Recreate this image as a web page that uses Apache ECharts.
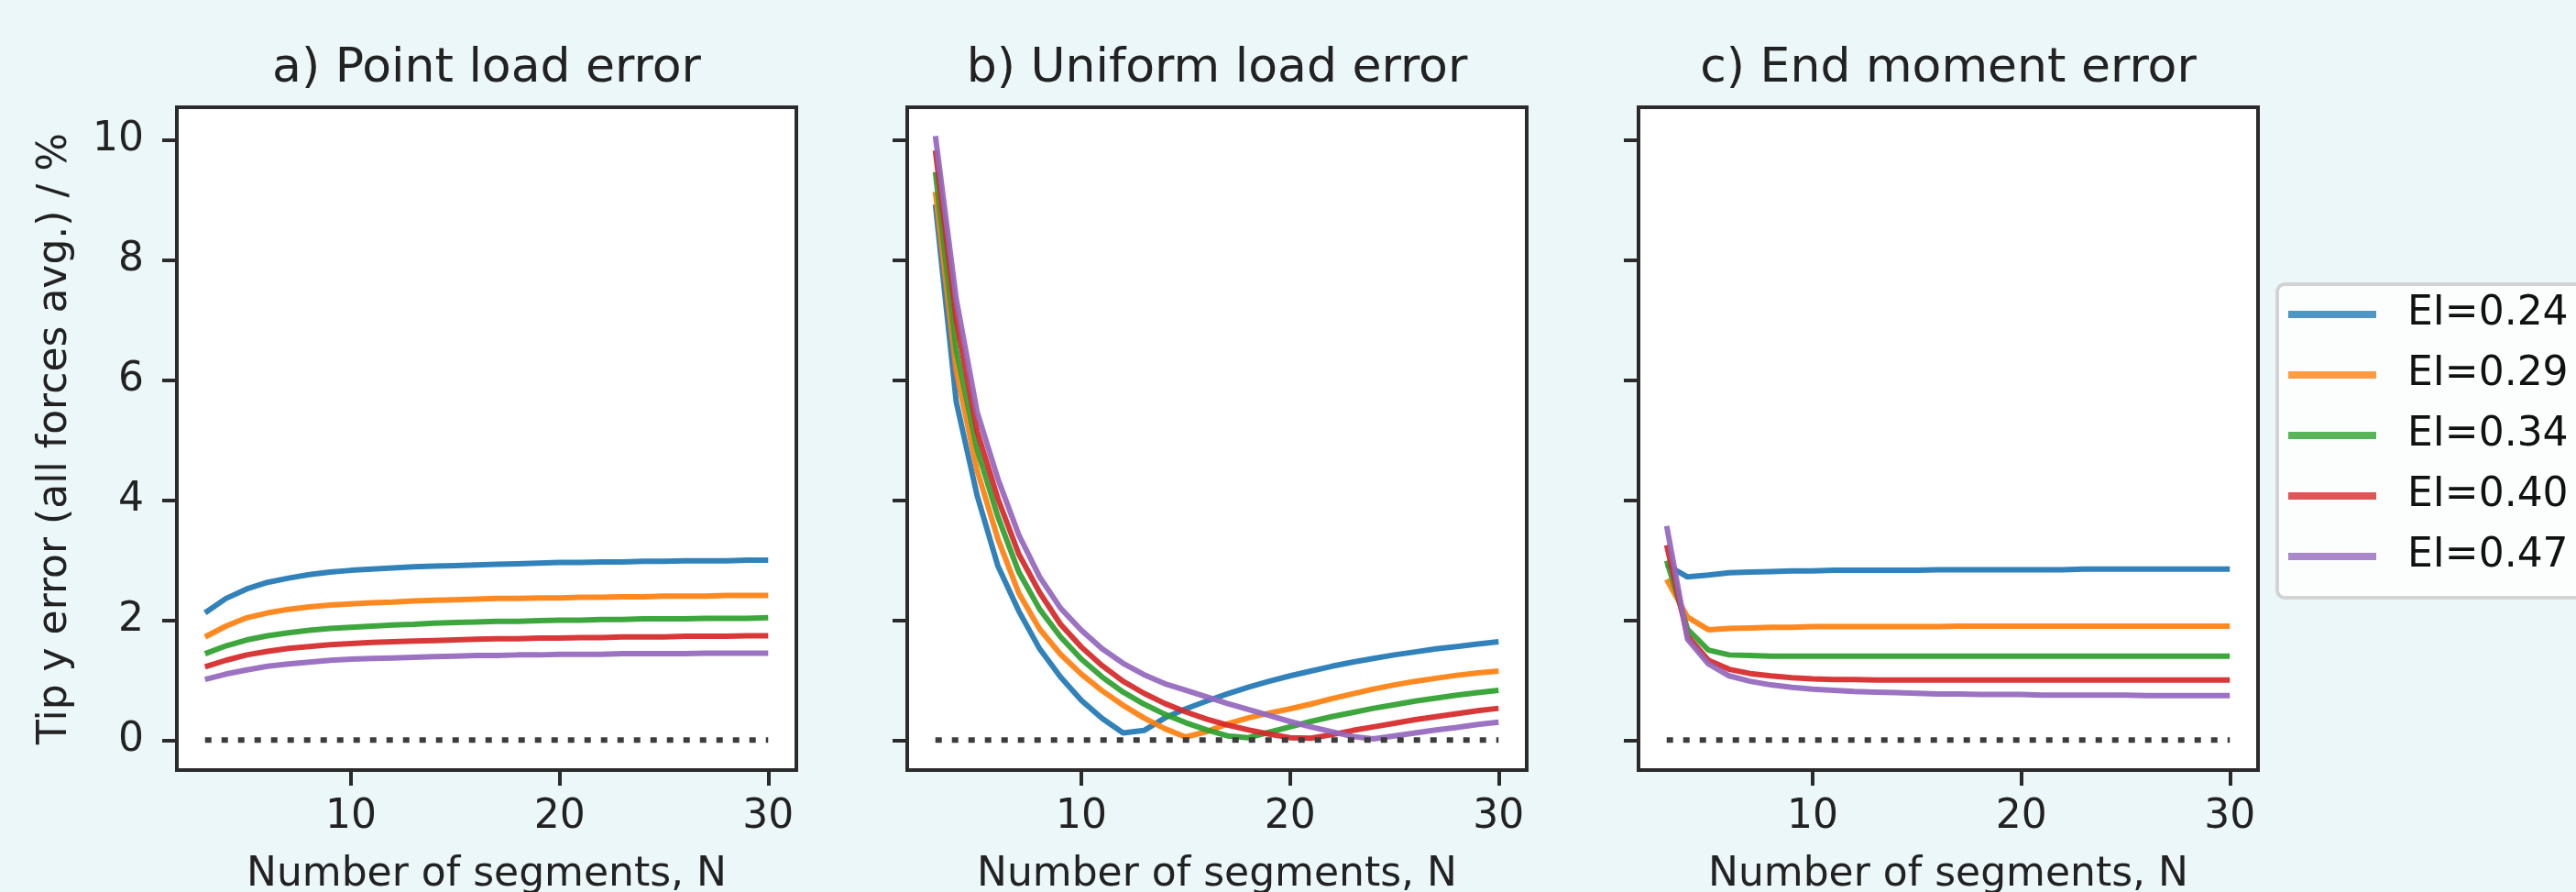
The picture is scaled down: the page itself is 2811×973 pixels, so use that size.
<!DOCTYPE html>
<html>
<head>
<meta charset="utf-8">
<title>Tip y error</title>
<script src="https://cdn.jsdelivr.net/npm/echarts@6/dist/echarts.min.js"></script>
<style>
  html, body { margin: 0; padding: 0; background: #ecf7f9; }
  #chart { width: 2811px; height: 973px; }
</style>
</head>
<body>
<div id="chart"></div>
<script>
// number of segments
var segN = [3,4,5,6,7,8,9,10,11,12,13,14,15,16,17,18,19,20,21,22,23,24,25,26,27,28,29,30];
var xTicks = [10, 20, 30];
var yTicks = [0, 2, 4, 6, 8, 10];
var eiNames = ['EI=0.24', 'EI=0.29', 'EI=0.34', 'EI=0.40', 'EI=0.47'];
var panelTitles = ['a) Point load error', 'b) Uniform load error', 'c) End moment error'];

// reference line at zero
var zeroN = [3, 30];
var zeroY = [0, 0];

// a) point load
var pointEI024 = [2.12,2.36,2.52,2.63,2.70,2.76,2.80,2.83,2.85,2.87,2.89,2.90,2.91,2.92,2.93,2.94,2.95,2.96,2.96,2.97,2.97,2.98,2.98,2.99,2.99,2.99,3.00,3.00];
var pointEI029 = [1.72,1.90,2.04,2.12,2.18,2.22,2.25,2.27,2.29,2.30,2.32,2.33,2.34,2.35,2.36,2.36,2.37,2.37,2.38,2.38,2.39,2.39,2.40,2.40,2.40,2.41,2.41,2.41];
var pointEI034 = [1.44,1.57,1.67,1.74,1.79,1.83,1.86,1.88,1.90,1.92,1.93,1.95,1.96,1.97,1.98,1.98,1.99,2.00,2.00,2.01,2.01,2.02,2.02,2.02,2.03,2.03,2.03,2.04];
var pointEI040 = [1.22,1.33,1.42,1.48,1.53,1.56,1.59,1.61,1.63,1.64,1.65,1.66,1.67,1.68,1.69,1.69,1.70,1.70,1.71,1.71,1.72,1.72,1.72,1.73,1.73,1.73,1.74,1.74];
var pointEI047 = [1.01,1.10,1.17,1.23,1.27,1.30,1.33,1.35,1.36,1.37,1.38,1.39,1.40,1.41,1.41,1.42,1.42,1.43,1.43,1.43,1.44,1.44,1.44,1.44,1.45,1.45,1.45,1.45];

// b) uniform load
var uniformEI024 = [8.93,5.64,4.08,2.90,2.15,1.52,1.05,0.66,0.36,0.12,0.16,0.37,0.52,0.65,0.77,0.88,0.98,1.07,1.15,1.23,1.30,1.36,1.42,1.47,1.52,1.56,1.60,1.64];
var uniformEI029 = [9.14,6.15,4.50,3.35,2.45,1.85,1.43,1.10,0.82,0.58,0.37,0.19,0.05,0.14,0.27,0.37,0.45,0.52,0.60,0.69,0.77,0.85,0.92,0.98,1.03,1.08,1.12,1.15];
var uniformEI034 = [9.47,6.50,4.85,3.72,2.80,2.18,1.72,1.35,1.05,0.80,0.60,0.43,0.29,0.17,0.07,0.04,0.13,0.22,0.31,0.39,0.46,0.53,0.59,0.65,0.70,0.75,0.79,0.83];
var uniformEI040 = [9.83,7.00,5.15,4.02,3.10,2.46,1.93,1.55,1.24,0.98,0.78,0.61,0.47,0.35,0.25,0.17,0.10,0.04,0.03,0.09,0.16,0.22,0.28,0.34,0.39,0.44,0.49,0.53];
var uniformEI047 = [10.07,7.35,5.47,4.35,3.42,2.72,2.20,1.83,1.52,1.28,1.09,0.94,0.83,0.72,0.61,0.51,0.41,0.31,0.22,0.14,0.06,0.02,0.07,0.12,0.17,0.21,0.26,0.30];

// c) end moment
var momentEI024 = [2.92,2.72,2.75,2.79,2.80,2.81,2.82,2.82,2.83,2.83,2.83,2.83,2.83,2.84,2.84,2.84,2.84,2.84,2.84,2.84,2.85,2.85,2.85,2.85,2.85,2.85,2.85,2.85];
var momentEI029 = [2.68,2.05,1.84,1.86,1.87,1.88,1.88,1.89,1.89,1.89,1.89,1.89,1.89,1.89,1.90,1.90,1.90,1.90,1.90,1.90,1.90,1.90,1.90,1.90,1.90,1.90,1.90,1.90];
var momentEI034 = [2.99,1.85,1.50,1.42,1.41,1.40,1.40,1.40,1.40,1.40,1.40,1.40,1.40,1.40,1.40,1.40,1.40,1.40,1.40,1.40,1.40,1.40,1.40,1.40,1.40,1.40,1.40,1.40];
var momentEI040 = [3.25,1.73,1.33,1.18,1.11,1.07,1.04,1.02,1.01,1.01,1.00,1.00,1.00,1.00,1.00,1.00,1.00,1.00,1.00,1.00,1.00,1.00,1.00,1.00,1.00,1.00,1.00,1.00];
var momentEI047 = [3.57,1.68,1.27,1.07,0.98,0.92,0.88,0.85,0.83,0.81,0.80,0.79,0.78,0.77,0.77,0.76,0.76,0.76,0.75,0.75,0.75,0.75,0.75,0.74,0.74,0.74,0.74,0.74];

var panels = [
  [pointEI024, pointEI029, pointEI034, pointEI040, pointEI047],
  [uniformEI024, uniformEI029, uniformEI034, uniformEI040, uniformEI047],
  [momentEI024, momentEI029, momentEI034, momentEI040, momentEI047]
];

var colors = ['#1f77b4', '#ff7f0e', '#2ca02c', '#d62728', '#9467bd'];
var font = 'DejaVu Sans';
var ink = '#222222';
var frame = '#2b2b2b';

// layout of the three boxes
var gridLeft = [193, 990, 1788];
var gridTop = 117, gridW = 676, gridH = 723;

function pairs(xs, ys) {
  return xs.map(function (x, i) { return [x, ys[i]]; });
}

var grids = [], xAxes = [], yAxes = [], titles = [], series = [];

for (let p = 0; p < 3; p++) {
  grids.push({
    left: gridLeft[p], top: gridTop, width: gridW, height: gridH,
    outerBoundsMode: 'none', containLabel: false,
    show: true, backgroundColor: '#ffffff',
    borderColor: frame, borderWidth: 4
  });
  titles.push({
    text: panelTitles[p],
    left: gridLeft[p] + gridW / 2, top: 49, padding: 0,
    textAlign: 'center',
    textStyle: { fontFamily: font, fontSize: 52, fontWeight: 'normal', color: ink }
  });
  xAxes.push({
    type: 'value', gridIndex: p, min: 1.65, max: 31.35, position: 'bottom',
    name: 'Number of segments, N', nameLocation: 'middle', nameGap: 93,
    nameTextStyle: { fontFamily: font, fontSize: 44, color: ink },
    axisLine: { show: true, onZero: false, lineStyle: { color: frame, width: 4 } },
    splitLine: { show: false },
    axisTick: { show: true, inside: false, length: 17, customValues: xTicks,
                lineStyle: { color: frame, width: 4 } },
    axisLabel: { show: true, customValues: xTicks, margin: 30,
                 fontFamily: font, fontSize: 44, color: ink }
  });
  yAxes.push({
    type: 'value', gridIndex: p, min: -0.5, max: 10.55, position: 'left',
    name: p === 0 ? 'Tip y error (all forces avg.) / %' : '',
    nameLocation: 'middle', nameGap: 110, nameRotate: 90,
    nameTextStyle: { fontFamily: font, fontSize: 44, color: ink },
    axisLine: { show: true, onZero: false, lineStyle: { color: frame, width: 4 } },
    splitLine: { show: false },
    axisTick: { show: true, inside: false, length: 16, customValues: yTicks,
                lineStyle: { color: frame, width: 4 } },
    axisLabel: { show: p === 0, customValues: yTicks, margin: 36,
                 fontFamily: font, fontSize: 44, color: ink }
  });
  for (let k = 0; k < 5; k++) {
    series.push({
      type: 'line', name: eiNames[k],
      xAxisIndex: p, yAxisIndex: p,
      data: pairs(segN, panels[p][k]),
      showSymbol: false, symbol: 'none',
      color: colors[k],
      lineStyle: { width: 6, color: colors[k], opacity: 0.92 },
      z: 2 + k
    });
  }
  series.push({
    type: 'line', name: 'zero' + p,
    xAxisIndex: p, yAxisIndex: p,
    data: pairs(zeroN, zeroY),
    showSymbol: false, symbol: 'none',
    lineStyle: { width: 6, color: '#3c3c3c', type: [7, 11] },
    z: 10
  });
}

var chart = echarts.init(document.getElementById('chart'), null, { renderer: 'canvas' });
chart.setOption({
  backgroundColor: '#ecf7f9',
  animation: false,
  title: titles,
  grid: grids,
  xAxis: xAxes,
  yAxis: yAxes,
  legend: {
    data: eiNames,
    orient: 'vertical',
    left: 2485, top: 310,
    padding: [8, 30, 20, 12],
    itemGap: 16,
    itemWidth: 96, itemHeight: 8,
    icon: 'rect',
    selectedMode: false,
    itemStyle: { opacity: 0.78 },
    backgroundColor: 'rgba(255,255,255,0.85)',
    borderColor: '#d3d3d3', borderWidth: 4, borderRadius: 8,
    textStyle: { fontFamily: font, fontSize: 44, color: '#111111',
                 lineHeight: 50, padding: [0, 0, 0, 29] }
  },
  series: series
});
</script>
</body>
</html>
